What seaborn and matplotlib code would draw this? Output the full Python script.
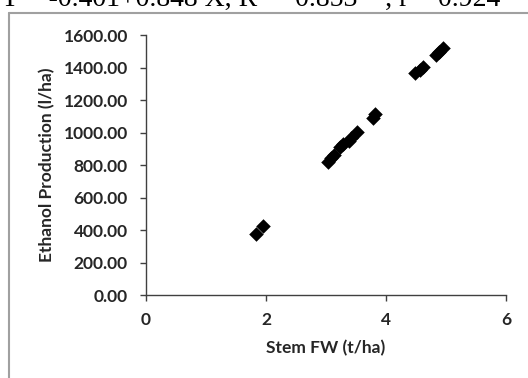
import matplotlib
matplotlib.use("Agg")
import matplotlib.pyplot as plt
import seaborn as sns
import pandas as pd
from matplotlib.lines import Line2D

stem_fw = [1.83, 1.95, 3.03, 3.09, 3.14, 3.24, 3.29, 3.38, 3.41, 3.52,
           3.78, 3.82, 4.49, 4.56, 4.62, 4.83, 4.88, 4.95]
ethanol = [375, 425, 820, 841, 862, 913, 927, 948, 964, 1005,
           1087, 1112, 1364, 1385, 1405, 1477, 1497, 1518]
x_ticks = [0, 2, 4, 6]
y_ticks = [0, 200, 400, 600, 800, 1000, 1200, 1400, 1600]
title_text = "Y = -0.401+0.848 X, R\u00b2 = 0.853**, r = 0.924"

df = pd.DataFrame({"Stem FW (t/ha)": stem_fw, "Ethanol Production (l/ha)": ethanol})

sns.set_style("white")
plt.rcParams['font.family'] = ['Lato', 'DejaVu Sans']

W, H = 528, 378
fig = plt.figure(figsize=(W / 100, H / 100), dpi=100)
ax = fig.add_axes([146 / W, 1 - 295 / H, 360 / W, 260 / H])

sns.scatterplot(data=df, x="Stem FW (t/ha)", y="Ethanol Production (l/ha)",
                marker="D", s=55, color="black", edgecolor="black", linewidth=0,
                ax=ax, legend=False)

ax.set_xlim(0, 6)
ax.set_ylim(0, 1600)
ax.set_xticks(x_ticks)
ax.set_yticks(y_ticks)
ax.set_xticklabels([str(t) for t in x_ticks], fontsize=12.5, fontweight="bold")
ax.set_yticklabels([f"{t:.2f}" for t in y_ticks], fontsize=12.5, fontweight="bold")
ax.set_xlabel("Stem FW (t/ha)", fontsize=12.5, fontweight="bold", labelpad=9)
ax.set_ylabel("Ethanol Production (l/ha)", fontsize=12.5, fontweight="bold", labelpad=6)

for side in ["top", "right"]:
    ax.spines[side].set_visible(False)
for side in ["left", "bottom"]:
    ax.spines[side].set_color("#404040")
    ax.spines[side].set_linewidth(1.0)
ax.tick_params(axis="both", which="both", direction="out", length=4, width=1,
               color="#404040", left=True, bottom=True)
ax.tick_params(axis="y", pad=9)
ax.tick_params(axis="x", pad=8)

# outer chart frame (partially visible)
fig.add_artist(Line2D([9 / W, 9 / W], [0, 1 - 13 / H], transform=fig.transFigure,
                      color="#a0a0a0", linewidth=1.5))
fig.add_artist(Line2D([9 / W, 1], [1 - 13 / H, 1 - 13 / H], transform=fig.transFigure,
                      color="#a0a0a0", linewidth=1.5))

# regression text at top (cropped in the reference)
fig.text(0 / W, 1 - 6 / H, title_text, fontsize=20, family=["Liberation Serif"],
         va="baseline", ha="left", color="black")

fig.savefig("out.png", dpi=100)
